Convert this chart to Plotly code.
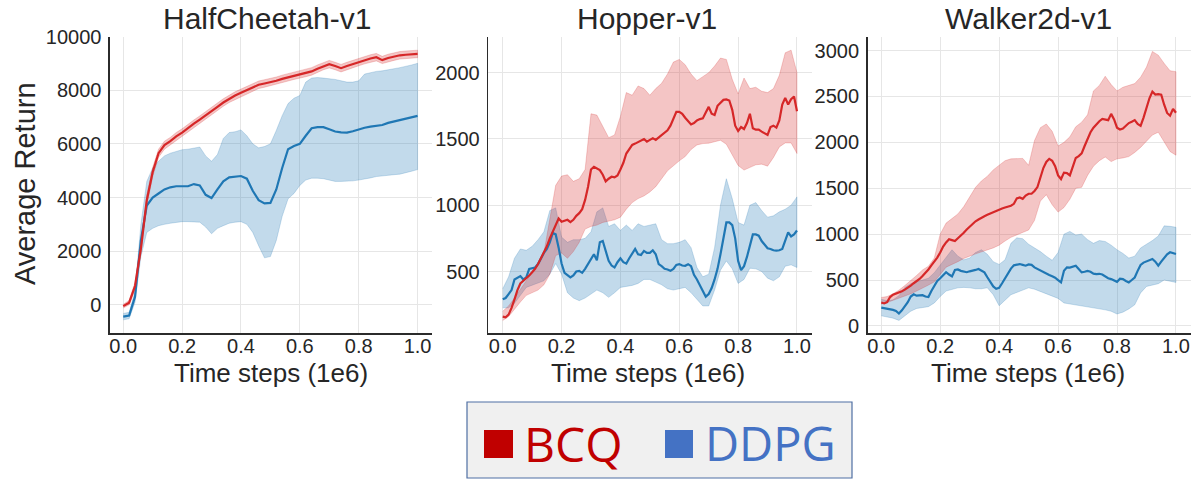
import plotly.graph_objects as go

# evaluation steps (1e6) for the bands and the HalfCheetah curves
steps = [0.00, 0.02, 0.04, 0.06, 0.08, 0.10, 0.12, 0.14, 0.16, 0.18,
         0.20, 0.22, 0.24, 0.26, 0.28, 0.30, 0.32, 0.34, 0.36, 0.38,
         0.40, 0.42, 0.44, 0.46, 0.48, 0.50, 0.52, 0.54, 0.56, 0.58,
         0.60, 0.62, 0.64, 0.66, 0.68, 0.70, 0.72, 0.74, 0.76, 0.78,
         0.80, 0.82, 0.84, 0.86, 0.88, 0.90, 0.92, 0.94, 0.96, 0.98, 1.00]
# finer evaluation steps for the noisy Hopper / Walker mean curves
steps_fine = [0.00, 0.01, 0.02, 0.03, 0.04, 0.05, 0.06, 0.07, 0.08, 0.09,
              0.10, 0.11, 0.12, 0.13, 0.14, 0.15, 0.16, 0.17, 0.18, 0.19,
              0.20, 0.21, 0.22, 0.23, 0.24, 0.25, 0.26, 0.27, 0.28, 0.29,
              0.30, 0.31, 0.32, 0.33, 0.34, 0.35, 0.36, 0.37, 0.38, 0.39,
              0.40, 0.41, 0.42, 0.43, 0.44, 0.45, 0.46, 0.47, 0.48, 0.49,
              0.50, 0.51, 0.52, 0.53, 0.54, 0.55, 0.56, 0.57, 0.58, 0.59,
              0.60, 0.61, 0.62, 0.63, 0.64, 0.65, 0.66, 0.67, 0.68, 0.69,
              0.70, 0.71, 0.72, 0.73, 0.74, 0.75, 0.76, 0.77, 0.78, 0.79,
              0.80, 0.81, 0.82, 0.83, 0.84, 0.85, 0.86, 0.87, 0.88, 0.89,
              0.90, 0.91, 0.92, 0.93, 0.94, 0.95, 0.96, 0.97, 0.98, 0.99, 1.00]

titles = ["HalfCheetah-v1", "Hopper-v1", "Walker2d-v1"]
methods = ["BCQ", "DDPG"]
x_ticks = [0, 0.2, 0.4, 0.6, 0.8, 1.0]
x_tick_labels = ["0.0", "0.2", "0.4", "0.6", "0.8", "1.0"]

# ---------------- HalfCheetah ----------------
hc_yticks = [0, 2000, 4000, 6000, 8000, 10000]
hc_bcq_mean = [-50, 80, 700, 2100, 3900, 4950, 5650, 5950, 6100, 6280,
               6420, 6600, 6750, 6900, 7050, 7220, 7380, 7540, 7680, 7800,
               7900, 8000, 8100, 8200, 8250, 8290, 8350, 8420, 8480, 8540,
               8600, 8640, 8700, 8800, 8900, 8970, 8900, 8820, 8900, 8970,
               9050, 9120, 9180, 9230, 9120, 9200, 9250, 9300, 9320, 9340, 9350]
hc_bcq_lo = [-120, 0, 560, 1900, 3700, 4780, 5500, 5800, 5960, 6140,
             6280, 6460, 6610, 6760, 6910, 7080, 7240, 7400, 7540, 7660,
             7760, 7860, 7960, 8060, 8110, 8150, 8210, 8280, 8340, 8400,
             8460, 8500, 8560, 8660, 8760, 8830, 8760, 8680, 8760, 8830,
             8910, 8980, 9040, 9090, 8990, 9060, 9110, 9160, 9180, 9200, 9210]
hc_bcq_hi = [20, 160, 840, 2300, 4100, 5120, 5800, 6100, 6240, 6420,
             6560, 6740, 6890, 7040, 7190, 7360, 7520, 7680, 7820, 7940,
             8040, 8140, 8240, 8340, 8390, 8430, 8490, 8560, 8620, 8680,
             8740, 8780, 8840, 8940, 9040, 9110, 9040, 8960, 9040, 9110,
             9190, 9260, 9320, 9370, 9260, 9340, 9390, 9440, 9460, 9480, 9490]
hc_ddpg_mean = [-440, -400, 300, 2400, 3700, 4000, 4150, 4300, 4380, 4420,
                4420, 4420, 4500, 4450, 4100, 3980, 4300, 4600, 4750, 4780,
                4800, 4700, 4250, 3900, 3780, 3800, 4300, 5100, 5800, 5920,
                6000, 6300, 6580, 6620, 6620, 6540, 6460, 6430, 6420, 6470,
                6540, 6600, 6640, 6660, 6700, 6780, 6830, 6880, 6940, 6990, 7040]
hc_ddpg_lo = [-560, -520, 100, 1800, 2700, 2850, 2950, 3000, 3040, 3080,
              3100, 3100, 3100, 3080, 2900, 2650, 2850, 2950, 3040, 3080,
              3100, 3000, 2700, 2200, 1750, 1800, 2400, 3300, 3950, 4150,
              4450, 4650, 4720, 4720, 4700, 4650, 4600, 4600, 4600, 4620,
              4650, 4680, 4730, 4780, 4800, 4830, 4850, 4870, 4920, 4980, 5040]
hc_ddpg_hi = [-320, -280, 500, 3000, 4600, 5100, 5350, 5550, 5650, 5720,
              5780, 5800, 5850, 5880, 5550, 5350, 5600, 6200, 6420, 6450,
              6520, 6300, 6000, 5850, 5900, 6000, 6500, 7050, 7500, 7700,
              7800, 8300, 8450, 8470, 8450, 8430, 8400, 8350, 8300, 8300,
              8350, 8600, 8660, 8700, 8720, 8750, 8800, 8840, 8880, 8940, 9000]

# ---------------- Hopper ----------------
hop_yticks = [500, 1000, 1500, 2000]
hop_bcq_mean = [160, 155, 175, 225, 290, 360, 410, 430, 445, 470,
                495, 520, 556, 600, 645, 690, 750, 800, 860, 900,
                875, 880, 890, 872, 890, 920, 940, 970, 1040, 1140,
                1270, 1290, 1278, 1265, 1230, 1180, 1200, 1215, 1210, 1225,
                1270, 1320, 1390, 1420, 1455, 1465, 1475, 1490, 1500, 1480,
                1490, 1506, 1493, 1510, 1530, 1545, 1565, 1600, 1655, 1705,
                1705, 1690, 1660, 1635, 1610, 1620, 1640, 1650, 1655, 1700,
                1742, 1690, 1680, 1750, 1770, 1795, 1798, 1790, 1720, 1600,
                1560, 1590, 1575, 1620, 1690, 1580, 1570, 1570, 1555, 1540,
                1531, 1590, 1600, 1585, 1640, 1760, 1810, 1760, 1800, 1820, 1709]
hop_bcq_lo = [130, 160, 215, 270, 320, 340, 360, 400, 480, 620,
              640, 600, 650, 720, 820, 840, 850, 870, 880, 890,
              910, 970, 1020, 1050, 1070, 1100, 1140, 1200, 1260, 1300,
              1335, 1367, 1420, 1455, 1465, 1468, 1480, 1490, 1460, 1380,
              1300, 1265, 1285, 1305, 1310, 1295, 1360, 1440, 1470, 1470, 1390]
hop_bcq_hi = [200, 240, 300, 370, 430, 495, 560, 640, 900, 1150,
              1220, 1230, 1180, 1200, 1270, 1690, 1680, 1600, 1510, 1530,
              1670, 1850, 1830, 1900, 1880, 1830, 1880, 1920, 1990, 2080,
              2100, 2060, 1990, 1940, 1970, 2000, 2050, 2110, 2100, 1950,
              1840, 1960, 1880, 1890, 1860, 1850, 1880, 1980, 2150, 2170, 2000]
hop_ddpg_mean = [290, 300, 330, 360, 440, 455, 465, 440, 455, 520,
                 528, 530, 556, 600, 640, 670, 720, 790, 780, 680,
                 560, 490, 470, 455, 470, 500, 505, 490, 520, 556,
                 600, 630, 585, 720, 730, 650, 580, 545, 530, 570,
                 600, 570, 560, 600, 640, 670, 630, 625, 655, 640,
                 640, 660, 630, 556, 540, 520, 515, 505, 520, 550,
                 556, 545, 543, 555, 540, 475, 440, 400, 360, 310,
                 330, 375, 440, 520, 630, 760, 870, 870, 850, 750,
                 580, 510, 540, 610, 700, 780, 780, 770, 730, 700,
                 675, 670, 660, 657, 660, 670, 730, 796, 765, 780, 809]
hop_ddpg_lo = [226, 226, 260, 320, 380, 400, 415, 430, 480, 560,
               480, 340, 300, 280, 300, 330, 360, 340, 305, 340,
               380, 390, 395, 410, 440, 440, 420, 400, 370, 360,
               370, 380, 340, 290, 240, 240, 360, 510, 580, 520,
               410, 440, 525, 520, 500, 450, 430, 460, 540, 550, 530]
hop_ddpg_hi = [370, 460, 600, 670, 660, 690, 740, 800, 960, 980,
               760, 720, 740, 740, 750, 800, 950, 980, 840, 860,
               810, 850, 810, 860, 840, 850, 860, 740, 710, 710,
               720, 740, 680, 530, 460, 480, 680, 1000, 1200, 1050,
               870, 850, 1000, 1020, 960, 910, 920, 950, 970, 1000, 1063]

# ---------------- Walker2d ----------------
wal_yticks = [0, 500, 1000, 1500, 2000, 2500, 3000]
wal_bcq_mean = [255, 245, 260, 315, 340, 350, 365, 378, 395, 415,
                440, 465, 488, 512, 545, 575, 615, 660, 700, 745,
                800, 865, 910, 945, 935, 925, 955, 980, 1015, 1050,
                1080, 1112, 1140, 1160, 1180, 1195, 1210, 1225, 1240, 1250,
                1265, 1280, 1290, 1300, 1310, 1330, 1390, 1400, 1385, 1420,
                1440, 1440, 1470, 1513, 1610, 1720, 1786, 1820, 1800, 1740,
                1640, 1600, 1670, 1665, 1640, 1740, 1830, 1850, 1880, 1960,
                2030, 2110, 2160, 2200, 2230, 2255, 2250, 2242, 2310, 2250,
                2160, 2140, 2150, 2180, 2210, 2225, 2242, 2200, 2180, 2270,
                2380, 2480, 2552, 2520, 2525, 2520, 2410, 2320, 2290, 2365, 2322]
wal_bcq_lo = [237, 255, 275, 300, 325, 350, 380, 410, 445, 480,
              560, 640, 670, 700, 735, 760, 785, 810, 830, 850,
              880, 925, 965, 995, 1020, 1045, 1150, 1360, 1430, 1320,
              1240, 1290, 1380, 1500, 1510, 1640, 1740, 1800, 1840, 1790,
              1820, 1830, 1845, 1890, 1945, 2010, 2080, 2110, 2000, 1900, 1860]
wal_bcq_hi = [310, 320, 350, 390, 440, 490, 550, 610, 650, 740,
              1000, 1120, 1170, 1220, 1300, 1405, 1510, 1580, 1630, 1700,
              1750, 1800, 1820, 1822, 1825, 1750, 2020, 2160, 2200, 2120,
              1960, 2000, 2060, 2170, 2220, 2300, 2560, 2620, 2720, 2630,
              2560, 2600, 2620, 2640, 2710, 2820, 2990, 2950, 2860, 2780, 2770]
wal_ddpg_mean = [200, 195, 188, 183, 175, 164, 135, 170, 215, 258,
                 320, 345, 330, 332, 335, 320, 315, 380, 430, 490,
                 520, 555, 585, 560, 540, 610, 615, 600, 590, 585,
                 595, 600, 610, 620, 605, 583, 530, 480, 430, 405,
                 415, 465, 515, 570, 625, 660, 670, 674, 665, 656,
                 670, 665, 638, 620, 605, 590, 575, 555, 540, 525,
                 500, 474, 600, 638, 635, 645, 656, 620, 583, 590,
                 600, 590, 570, 565, 568, 560, 535, 520, 510, 495,
                 480, 515, 510, 490, 474, 500, 528, 600, 665, 690,
                 705, 715, 729, 700, 656, 700, 745, 780, 802, 790, 784]
wal_ddpg_lo = [110, 100, 85, 60, 110, 160, 190, 200, 210, 250,
               320, 380, 400, 415, 420, 415, 405, 405, 415, 340,
               220, 280, 340, 370, 390, 415, 400, 375, 350, 325,
               300, 250, 240, 230, 215, 205, 195, 185, 175, 160,
               130, 150, 185, 230, 360, 430, 445, 460, 500, 490, 474]
wal_ddpg_hi = [290, 275, 285, 330, 420, 460, 480, 500, 520, 580,
               660, 740, 830, 760, 720, 740, 800, 830, 780, 700,
               670, 720, 900, 960, 950, 890, 850, 810, 760, 715,
               800, 1000, 1030, 990, 1000, 940, 900, 930, 920, 880,
               830, 790, 740, 760, 850, 890, 930, 980, 1090, 1085, 1075]

for arr in [hc_bcq_mean, hc_bcq_lo, hc_bcq_hi, hc_ddpg_mean, hc_ddpg_lo, hc_ddpg_hi,
            hop_bcq_lo, hop_bcq_hi, hop_ddpg_lo, hop_ddpg_hi,
            wal_bcq_lo, wal_bcq_hi, wal_ddpg_lo, wal_ddpg_hi]:
    assert len(arr) == len(steps), len(arr)
for arr in [hop_bcq_mean, hop_ddpg_mean, wal_bcq_mean, wal_ddpg_mean]:
    assert len(arr) == len(steps_fine), len(arr)

panels = [
    dict(bcq=(hc_bcq_mean, hc_bcq_lo, hc_bcq_hi), ddpg=(hc_ddpg_mean, hc_ddpg_lo, hc_ddpg_hi),
         mx=steps, yrange=[-1050, 10000], yticks=hc_yticks, xrange=[-0.045, 1.049]),
    dict(bcq=(hop_bcq_mean, hop_bcq_lo, hop_bcq_hi), ddpg=(hop_ddpg_mean, hop_ddpg_lo, hop_ddpg_hi),
         mx=steps_fine, yrange=[36, 2273], yticks=hop_yticks, xrange=[-0.049, 1.05]),
    dict(bcq=(wal_bcq_mean, wal_bcq_lo, wal_bcq_hi), ddpg=(wal_ddpg_mean, wal_ddpg_lo, wal_ddpg_hi),
         mx=steps_fine, yrange=[-77, 3153], yticks=wal_yticks, xrange=[-0.046, 1.05]),
]

# The page's default body margin is removed (see post_script), so the figure
# covers the whole 1195x482 window.
W, H = 1195, 482


def px_x(s):
    return s / W


def px_y(s):
    return 1 - s / H


x_dom_px = [(110, 432), (488.3, 811.7), (867.7, 1190.7)]
y_top_px, y_bot_px = 36.5, 333

RED = "#d62728"
BLUE = "#1f77b4"
RED_FILL = "rgba(214,39,40,0.27)"
BLUE_FILL = "rgba(31,119,180,0.27)"
FONT = "Liberation Sans, Arial, sans-serif"
TXT = "#262626"

fig = go.Figure()
layout = dict(width=W, height=H, autosize=False,
              margin=dict(l=0, r=0, t=0, b=0, pad=0, autoexpand=False),
              paper_bgcolor="white", plot_bgcolor="white",
              showlegend=False, font=dict(family=FONT, color=TXT))

for i, p in enumerate(panels):
    n = "" if i == 0 else str(i + 1)
    xa, ya = "x" + n, "y" + n
    for key, fc in [("ddpg", BLUE_FILL), ("bcq", RED_FILL)]:
        mean, lo, hi = p[key]
        fig.add_trace(go.Scatter(x=steps + steps[::-1], y=hi + lo[::-1], fill="toself",
                                 fillcolor=fc, line=dict(width=0.8, color=fc), mode="lines",
                                 hoverinfo="skip", xaxis=xa, yaxis=ya))
    for key, lc in [("ddpg", BLUE), ("bcq", RED)]:
        mean = p[key][0]
        fig.add_trace(go.Scatter(x=p["mx"], y=mean, mode="lines", line=dict(color=lc, width=2.2),
                                 name=key.upper(), xaxis=xa, yaxis=ya))
    x0, x1 = x_dom_px[i]
    layout["xaxis" + n] = dict(domain=[px_x(x0), px_x(x1)], range=p["xrange"], anchor=ya,
                               tickvals=x_ticks, ticktext=x_tick_labels, automargin=False,
                               showgrid=True, gridcolor="#e6e6e6", gridwidth=1,
                               zeroline=False, showline=True, linecolor="#2b2b2b", linewidth=1.6,
                               ticks="", ticklabelstandoff=-6,
                               tickfont=dict(size=20, color=TXT, family=FONT))
    layout["yaxis" + n] = dict(domain=[px_y(y_bot_px), px_y(y_top_px)], range=p["yrange"],
                               anchor=xa, tickvals=p["yticks"], automargin=False,
                               ticktext=[str(v) for v in p["yticks"]],
                               showgrid=True, gridcolor="#e6e6e6", gridwidth=1,
                               zeroline=False, showline=True, linecolor="#2b2b2b", linewidth=1.6,
                               ticks="outside", ticklen=3, tickcolor="rgba(0,0,0,0)",
                               tickfont=dict(size=20, color=TXT, family=FONT))

annotations = []
title_x = [267, 647, 1028]
xtitle_x = [271, 648, 1028]
for i, t in enumerate(titles):
    annotations.append(dict(text=t, x=px_x(title_x[i]), y=px_y(19), xref="paper", yref="paper",
                            xanchor="center", yanchor="middle", showarrow=False,
                            font=dict(size=30, color=TXT, family=FONT)))
    annotations.append(dict(text="Time steps (1e6)", x=px_x(xtitle_x[i]), y=px_y(373),
                            xref="paper", yref="paper", xanchor="center", yanchor="middle",
                            showarrow=False, font=dict(size=26, color=TXT, family=FONT)))
annotations.append(dict(text="Average Return", x=px_x(25), y=px_y(184), xref="paper", yref="paper",
                        xanchor="center", yanchor="middle", textangle=-90, showarrow=False,
                        font=dict(size=29, color=TXT, family=FONT)))

# custom legend box
LEG_FONT = "Open Sans, Noto Sans, sans-serif"
annotations.append(dict(text=methods[0], x=px_x(522), y=px_y(443), xref="paper", yref="paper",
                        xanchor="left", yanchor="middle", showarrow=False,
                        font=dict(size=48, color="#c00000", family=LEG_FONT)))
annotations.append(dict(text=methods[1], x=px_x(703), y=px_y(443), xref="paper", yref="paper",
                        xanchor="left", yanchor="middle", showarrow=False,
                        font=dict(size=47, color="#4472c4", family=LEG_FONT)))
shapes = [
    dict(type="rect", xref="paper", yref="paper", x0=px_x(467), x1=px_x(852),
         y0=px_y(478), y1=px_y(402), fillcolor="#f0f0f0",
         line=dict(color="#4f6fa3", width=1.2), layer="below"),
    dict(type="rect", xref="paper", yref="paper", x0=px_x(484), x1=px_x(513),
         y0=px_y(458), y1=px_y(430), fillcolor="#c00000", line=dict(width=0)),
    dict(type="rect", xref="paper", yref="paper", x0=px_x(665), x1=px_x(693),
         y0=px_y(458), y1=px_y(430), fillcolor="#4472c4", line=dict(width=0)),
]
layout["annotations"] = annotations
layout["shapes"] = shapes
fig.update_layout(**layout)
fig.write_html("out.html",
               config={"displayModeBar": False, "staticPlot": True},
               post_script="document.body.style.margin='0px';document.body.style.overflow='hidden';")
